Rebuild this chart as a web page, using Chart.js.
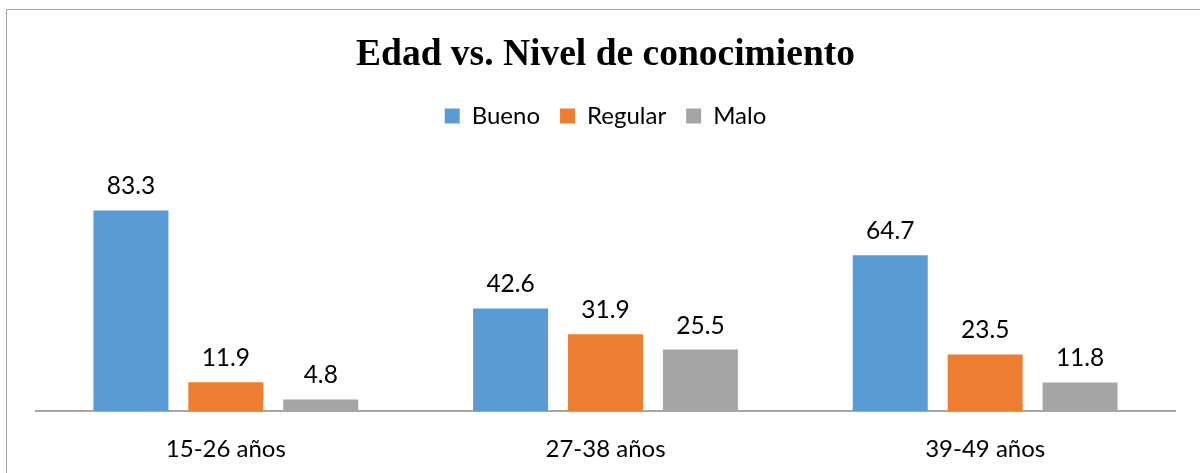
<!DOCTYPE html>
<html>
<head>
<meta charset="utf-8">
<script src="https://cdn.jsdelivr.net/npm/chart.js@4/dist/chart.umd.min.js"></script>
<style>
  body { margin: 0; background: #fff; }
  #frame { position: absolute; left: 6px; top: 9px; width: 1200px; height: 480px; border-left: 1px solid #a6a6a6; border-top: 1px solid #a6a6a6; }
  #wrap { position: absolute; left: 0; top: 0; width: 1200px; height: 473px; }
</style>
</head>
<body>
<div id="frame"></div>
<div id="wrap"><canvas id="chart"></canvas></div>
<script>
let categories = ['15-26 años', '27-38 años', '39-49 años'];
let bueno = [83.3, 42.6, 64.7];
let regular = [11.9, 31.9, 23.5];
let malo = [4.8, 25.5, 11.8];

// labels above each bar
let valueLabels = {
    id: 'valueLabels',
    afterDatasetsDraw(chart) {
        let ctx = chart.ctx;
        ctx.save();
        ctx.font = '24.5px Lato';
        ctx.fillStyle = '#000';
        ctx.textAlign = 'center';
        ctx.textBaseline = 'middle';
        chart.data.datasets.forEach(function(ds, i) {
            chart.getDatasetMeta(i).data.forEach(function(bar, j) {
                ctx.fillText(ds.data[j].toFixed(1), bar.x, bar.y - 24);
            });
        });
        ctx.restore();
    }
};

let ctx = document.getElementById('chart').getContext('2d');
let myChart = new Chart(ctx, {
    type: 'bar',
    data: {
        labels: categories,
        datasets: [
            { label: 'Bueno', data: bueno, backgroundColor: '#5b9bd5' },
            { label: 'Regular', data: regular, backgroundColor: '#ed7d31' },
            { label: 'Malo', data: malo, backgroundColor: '#a5a5a5' }
        ]
    },
    options: {
        responsive: true,
        maintainAspectRatio: false,
        animation: false,
        categoryPercentage: 0.75,
        barPercentage: 0.79,
        layout: { padding: { left: 36, right: 25, top: 0, bottom: 0 } },
        plugins: {
            title: {
                display: true,
                text: 'Edad vs. Nivel de conocimiento',
                color: '#000',
                font: { family: 'Liberation Serif', size: 37.5, weight: 'bold' },
                padding: { top: 33, bottom: 6 }
            },
            legend: {
                labels: {
                    boxWidth: 15,
                    boxHeight: 15,
                    color: '#000',
                    padding: 20,
                    font: { family: 'Lato', size: 24 }
                }
            },
            tooltip: { enabled: false }
        },
        scales: {
            x: {
                grid: { display: false, drawTicks: false },
                border: { color: '#a6a6a6', width: 2 },
                ticks: { color: '#000', padding: 24, font: { family: 'Lato', size: 24 } },
                afterFit: function(scale) { scale.height = 62; }
            },
            y: {
                display: false,
                min: 0,
                max: 113.4
            }
        }
    },
    plugins: [valueLabels]
});
</script>
</body>
</html>
